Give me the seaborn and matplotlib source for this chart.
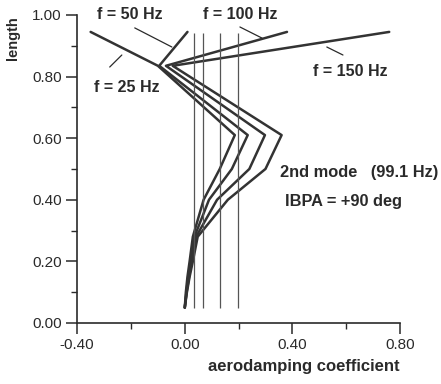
import numpy as np
import pandas as pd
import matplotlib
matplotlib.use("Agg")
import matplotlib.pyplot as plt
import seaborn as sns

# spanwise position along the blade (shared by all curves)
length = [0.05, 0.10, 0.15, 0.20, 0.28, 0.40, 0.50, 0.61, 0.835, 0.945]

# aerodamping coefficient for each excitation frequency
x_25 = [0.000, 0.004, 0.010, 0.018, 0.030, 0.070, 0.130, 0.186, -0.100, -0.350]
x_50 = [0.000, 0.006, 0.013, 0.022, 0.036, 0.090, 0.175, 0.234, -0.095, 0.010]
x_100 = [0.000, 0.007, 0.016, 0.026, 0.042, 0.120, 0.240, 0.298, -0.070, 0.380]
x_150 = [0.000, 0.008, 0.018, 0.030, 0.048, 0.160, 0.300, 0.360, -0.045, 0.760]
curve_names = ["f = 25 Hz", "f = 50 Hz", "f = 100 Hz", "f = 150 Hz"]

# mean (integrated) damping values drawn as vertical lines
mean_damping = [0.033, 0.067, 0.130, 0.197]

# label text, label position, leader line (start, end)
labels = ["f = 25 Hz", "f = 50 Hz", "f = 100 Hz", "f = 150 Hz"]
label_x = [-0.216, -0.205, 0.205, 0.614]
label_y = [0.763, 1.003, 1.003, 0.815]
leader_from = [(-0.234, 0.870), (-0.186, 0.958), (0.205, 0.961), (0.528, 0.896)]
leader_to = [(-0.279, 0.831), (-0.048, 0.896), (0.287, 0.925), (0.588, 0.870)]

rows = []
for name, xs in zip(curve_names, [x_25, x_50, x_100, x_150]):
    for xv, yv in zip(xs, length):
        rows.append({"curve": name, "coef": xv, "length": yv})
df = pd.DataFrame(rows)

sns.set_style("ticks")
plt.rcParams["font.family"] = ["Liberation Sans", "DejaVu Sans"]
ink = "#2a2a2a"

fig = plt.figure(figsize=(4.41, 3.84), dpi=100)
ax = fig.add_axes([0.175, 0.159, 0.732, 0.802])

sns.lineplot(data=df, x="coef", y="length", units="curve", estimator=None,
             sort=False, color="#333333", linewidth=1.8, ax=ax, legend=False)
ax.vlines(mean_damping, 0.05, 0.94, color="#555555", linewidth=0.9)

for t, lx, ly, p0, p1 in zip(labels, label_x, label_y, leader_from, leader_to):
    ax.text(lx, ly, t, ha="center", va="center", fontsize=11.5, fontweight="bold",
            color=ink, clip_on=False)
    ax.annotate("", xy=p1, xytext=p0,
                arrowprops=dict(arrowstyle="-", color=ink, linewidth=0.9,
                                shrinkA=0, shrinkB=0))

ax.text(0.353, 0.487, "2nd mode   (99.1 Hz)", fontsize=11.8, fontweight="bold",
        color=ink, va="center", ha="left", clip_on=False)
ax.text(0.372, 0.393, "IBPA = +90 deg", fontsize=11.8, fontweight="bold",
        color=ink, va="center", ha="left")

ax.set_xlim(-0.4, 0.8)
ax.set_ylim(0.0, 1.0)
ax.set_xticks([-0.4, 0.0, 0.4, 0.8])
ax.set_xticklabels(["-0.40", "0.00", "0.40", "0.80"])
ax.set_xticks([-0.2, 0.2, 0.6], minor=True)
ax.set_yticks([0.0, 0.2, 0.4, 0.6, 0.8, 1.0])
ax.set_yticklabels(["0.00", "0.20", "0.40", "0.60", "0.80", "1.00"])
ax.set_yticks(np.arange(0.1, 1.0, 0.2), minor=True)
ax.tick_params(which="major", length=8, width=1.1, color=ink, labelsize=11,
               labelcolor=ink, pad=3)
ax.tick_params(which="minor", length=4, width=1.0, color=ink)

sns.despine(ax=ax)
for s in ["left", "bottom"]:
    ax.spines[s].set_color(ink)
    ax.spines[s].set_linewidth(1.2)

ax.set_xlabel("aerodamping coefficient", fontsize=12, fontweight="bold",
              color=ink, loc="right", labelpad=5)
ax.set_ylabel("length", fontsize=10.5, fontweight="bold", color=ink)
ax.yaxis.set_label_coords(-0.176, 0.925)

fig.savefig("out.png", dpi=100, facecolor="white")
